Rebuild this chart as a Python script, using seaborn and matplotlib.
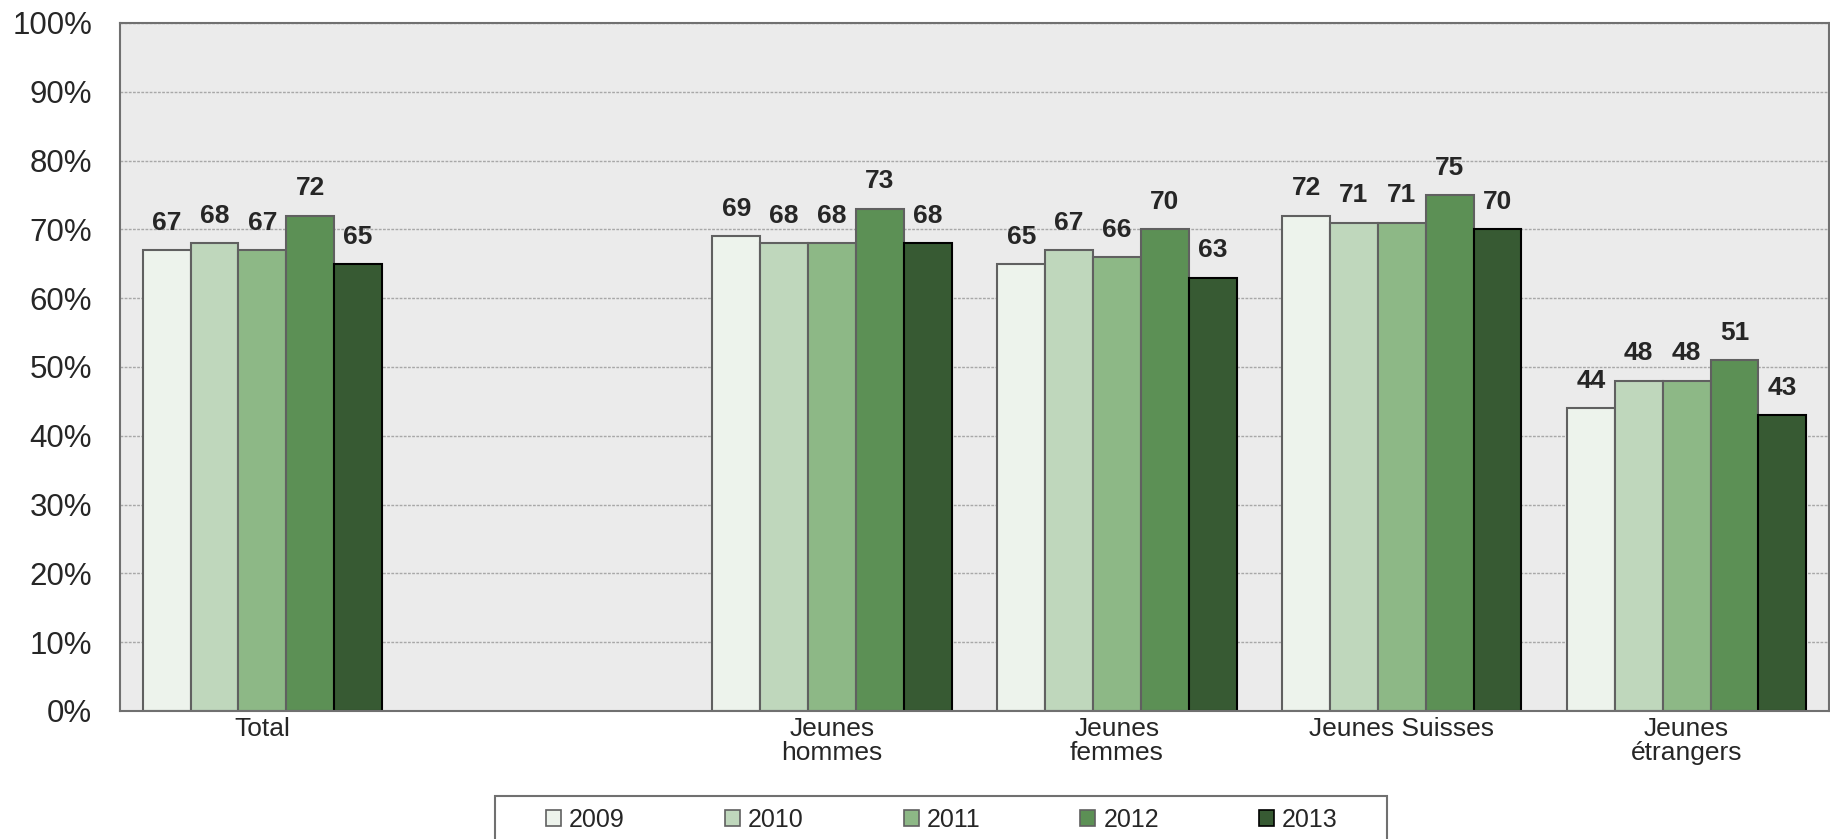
import numpy as np
import pandas as pd
import matplotlib.pyplot as plt
from matplotlib.patches import Patch, Rectangle
from matplotlib.ticker import FuncFormatter
import seaborn as sns

CATEGORIES = ["Total", " ", "Jeunes\nhommes", "Jeunes\nfemmes", "Jeunes Suisses", "Jeunes\nétrangers"]
YEARS = ["2009", "2010", "2011", "2012", "2013"]
TOTAL = [67, 68, 67, 72, 65]
HOMMES = [69, 68, 68, 73, 68]
FEMMES = [65, 67, 66, 70, 63]
SUISSES = [72, 71, 71, 75, 70]
ETRANGERS = [44, 48, 48, 51, 43]

COLORS = ["#EDF3EC", "#BFD7BC", "#8DB886", "#5C9055", "#375A33"]
EDGES = ["#606060", "#606060", "#606060", "#606060", "#000000"]

rows = []
for cat, vals in [("Total", TOTAL), ("Jeunes\nhommes", HOMMES), ("Jeunes\nfemmes", FEMMES),
                  ("Jeunes Suisses", SUISSES), ("Jeunes\nétrangers", ETRANGERS)]:
    for y, v in zip(YEARS, vals):
        rows.append({"cat": cat, "year": y, "value": v})
df = pd.DataFrame(rows)

sns.set_style("white")
plt.rcParams["font.family"] = ["Liberation Sans", "DejaVu Sans"]

fig = plt.figure(figsize=(18.31, 8.39), dpi=100)
ax = fig.add_axes([120 / 1831, 1 - 711 / 839, 1709 / 1831, 688 / 839])
ax.set_facecolor("#EBEBEB")

sns.barplot(data=df, x="cat", y="value", hue="year", order=CATEGORIES, hue_order=YEARS,
            palette=COLORS, width=0.84, gap=0, ax=ax, legend=False, saturation=1)

for cont, ec in zip(ax.containers, EDGES):
    for bar in cont:
        bar.set_edgecolor(ec)
        bar.set_linewidth(1.5)
    labels = ["" if np.isnan(v) else f"{v:.0f}" for v in cont.datavalues]
    ax.bar_label(cont, labels=labels, padding=11, fontsize=19, fontweight="bold")

ax.set_xlim(-0.5, 5.5)
ax.set_ylim(0, 100)
ax.set_yticks(range(0, 101, 10))
ax.yaxis.set_major_formatter(FuncFormatter(lambda v, p: f"{v:.0f}%"))
ax.grid(axis="y", color="#A8A8A8", linestyle=(0, (2, 1)), linewidth=1)
ax.set_axisbelow(True)
ax.tick_params(axis="y", labelsize=22.5, length=0, pad=20)
ax.tick_params(axis="x", labelsize=19, length=0, pad=4)
ax.set_xlabel("")
ax.set_ylabel("")
for sp in ax.spines.values():
    sp.set_color("#707070")
    sp.set_linewidth(1.5)
for t in ax.get_xticklabels():
    t.set_linespacing(1.0)

# legend frame drawn by hand so it matches the reference box
fig.patches.append(Rectangle((495 / 1831, -0.01), 892 / 1831, 0.01 + 43 / 839,
                             transform=fig.transFigure, facecolor="white",
                             edgecolor="#707070", linewidth=1.5))
handles = [Patch(facecolor=c, edgecolor=e, linewidth=1.2) for c, e in zip(COLORS, EDGES)]
fig.legend(handles, YEARS, loc="center", bbox_to_anchor=(942 / 1831, 1 - 820 / 839),
           ncol=5, fontsize=18, frameon=False,
           handlelength=0.6, handleheight=0.6, handletextpad=0.32, columnspacing=4.0,
           borderpad=0, borderaxespad=0)

fig.savefig("out.png", dpi=100)
